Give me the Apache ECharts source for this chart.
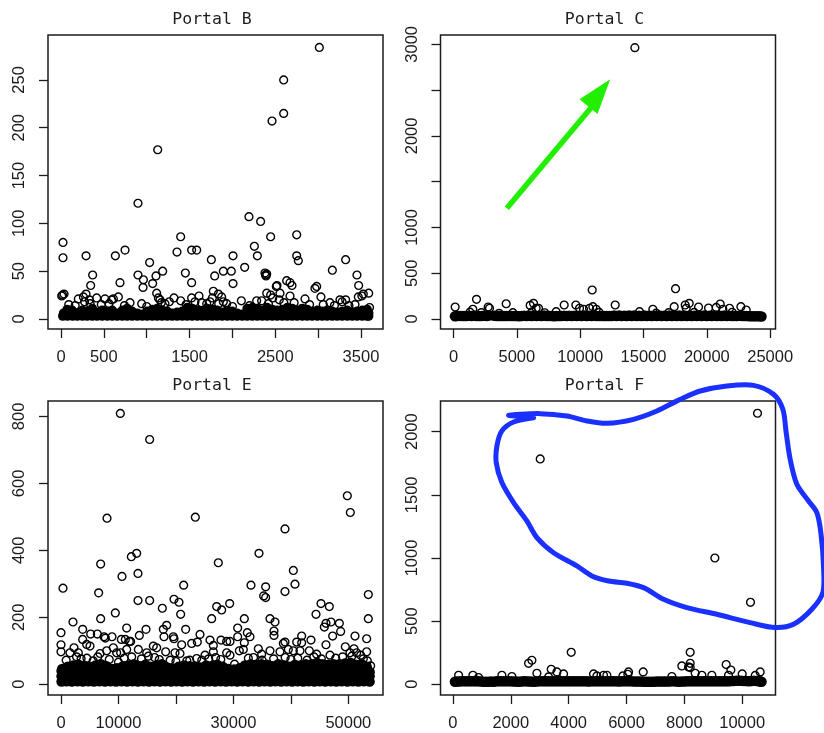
<!DOCTYPE html>
<html><head><meta charset="utf-8">
<style>html,body{margin:0;padding:0;background:#fff}#c{width:824px;height:733px}#c canvas{filter:blur(.45px)}</style>
<script src="https://cdn.jsdelivr.net/npm/echarts@6/dist/echarts.min.js"></script>
</head><body><div id="c"></div>
<script>
// ---- Portal B ----
const bPoints=[[3014,284],[2598,250],[2598,215],[2462,207],[1128,177],[898,121],[2193,107],[2329,102],[23,80],[23,64],[292,66],[369,46],[346,35],[634,66],[747,72],[688,38],[898,46],[961,41],[957,33],[1034,59],[1069,37],[1108,45],[1186,50],[1353,70],[1396,86],[1451,48],[1524,72],[1583,72],[1524,38],[1754,62],[1793,45],[1894,50],[1987,50],[2007,66],[2007,37],[2143,54],[2256,76],[2291,66],[2446,86],[2388,46],[2400,47],[2380,48],[2392,45],[2520,35],[2512,34],[2633,40],[2672,38],[2695,35],[2750,88],[2750,66],[2769,61],[2963,32],[2983,34],[3166,51],[3321,62],[3453,46],[3473,35],[3590,27],[3527,26],[3469,23],[3510,24],[3033,23],[3255,20],[3280,18],[3321,20],[8,24],[35,26],[18,25],[202,21],[261,23],[292,26],[331,20],[416,22],[513,21],[591,20],[611,21],[669,23],[805,17],[941,16],[1116,27],[1136,22],[1155,20],[1213,16],[1264,18],[1318,22],[1396,19],[1524,22],[1610,24],[1563,18],[1738,18],[1777,29],[1766,22],[1836,26],[1874,23],[1894,18],[1933,16],[2104,19],[2283,19],[2341,19],[2400,27],[2446,25],[2470,22],[2555,27],[2547,20],[2672,24],[2847,21],[3138,17],
[90,15],[165,14],[275,18],[340,16],[470,15],[560,16],[740,14],[1000,13],[1170,17],[1460,15],[1640,17],[1700,16],[1840,16],[2000,13],[2200,14],[2420,16],[2600,17],[2720,17],[2900,15],[3060,15],[3190,14],[3360,14],[3430,15],[3600,12]];
const bBand=[[20,3],[75,3],[135,3],[190,3],[250,3],[305,3],[365,3],[420,3],[480,3],[540,3],[598,3],[655,3],[715,3],[772,3],[830,3],[890,3],[948,3],[1005,3],[1065,3],[1122,3],[1180,3],[1240,3],[1298,3],[1355,3],[1415,3],[1472,3],[1530,3],[1590,3],[1648,3],[1705,3],[1765,3],[1822,3],[1880,3],[1940,3],[1998,3],[2055,3],[2115,3],[2172,3],[2232,3],[2290,3],[2348,3],[2405,3],[2465,3],[2522,3],[2582,3],[2640,3],[2698,3],[2755,3],[2815,3],[2872,3],[2930,3],[2990,3],[3048,3],[3105,3],[3165,3],[3222,3],[3280,3],[3340,3],[3398,3],[3455,3],[3515,3],[3572,3],[3590,3],
[30,6],[72,10],[130,9],[190,6],[250,9],[305,8],[365,11],[420,7],[480,9],[540,8],[598,9],[655,6],[715,9],[772,11],[830,8],[890,6],[948,5],[1005,8],[1065,10],[1122,11],[1180,9],[1240,8],[1298,6],[1355,7],[1415,8],[1472,12],[1530,11],[1590,9],[1648,8],[1705,11],[1765,10],[1822,9],[1880,7],[1940,9],[1998,8],[2055,6],[2115,5],[2172,11],[2232,12],[2290,11],[2348,9],[2405,12],[2465,10],[2522,9],[2582,10],[2640,12],[2698,11],[2755,9],[2815,11],[2872,10],[2930,8],[2990,9],[3048,8],[3105,9],[3165,8],[3222,7],[3280,8],[3340,9],[3398,7],[3455,8],[3515,9],[3572,10],[3590,6]];
const bTickX=[0,500,1000,1500,2000,2500,3000,3500];
const bLabelX=[0,500,1500,2500,3500];
const bTickY=[0,50,100,150,200,250];
const bLabelY=[0,50,100,150,200,250];

// ---- Portal C ----
const cPoints=[[14318,2964],[10949,317],[17529,331],[1816,215],[4159,167],[132,131],[2737,131],[2842,117],[1527,106],[6317,171],[6054,149],[6527,117],[6712,117],[4685,69],[8738,153],[9660,153],[9949,117],[10265,106],[10739,117],[11002,135],[11265,106],[12765,153],[14687,80],[15739,106],[17423,135],[18293,153],[18608,171],[18371,117],[19345,131],[20135,120],[20740,127],[21056,164],[21266,106],[21793,117],[22688,135],[23109,98],[8106,80],[1300,75],[2200,70],[3600,62],[6200,78],[7200,68],[11500,72],[16000,64],[17000,70],[19000,72],[22000,74]];
const cBand=[[115,30],[440,34],[835,32],[1230,36],[1625,38],[2020,33],[2415,36],[2810,38],[3205,35],[3600,32],[3995,33],[4390,34],[4785,32],[5180,30],[5575,36],[5970,38],[6365,38],[6760,36],[7155,38],[7550,34],[7945,31],[8340,33],[8735,35],[9130,36],[9525,35],[9920,37],[10315,38],[10710,36],[11105,38],[11500,34],[11895,32],[12290,33],[12685,38],[13080,38],[13475,37],[13870,38],[14265,38],[14660,37],[15055,38],[15450,37],[15845,36],[16240,38],[16635,37],[17030,38],[17425,37],[17820,38],[18215,38],[18610,37],[19005,36],[19400,37],[19795,38],[20190,37],[20585,38],[20980,37],[21375,38],[21770,36],[22165,34],[22560,36],[22955,33],[23350,30],[23745,31],[24140,30],[24315,28],
[240,32],[640,32],[1030,33],[1430,33],[1820,33],[2220,33],[2610,33],[3400,33],[3800,32],[4190,33],[4590,32],[4980,32],[5380,32],[5770,33],[6170,33],[6560,33],[6960,33],[7350,33],[7750,32],[8140,32],[8540,33],[8930,33],[9330,33],[9720,33],[10120,33],[10510,33],[10910,33],[11300,33],[11700,32],[12090,32],[12490,33],[12880,33],[13280,33],[13670,33],[14070,33],[14460,33],[14860,33],[15250,33],[15650,33],[16040,33],[16440,33],[16830,33],[17230,33],[17620,33],[18020,33],[18410,33],[18810,33],[19200,33],[19600,33],[19990,33],[20390,33],[20780,33],[21180,33],[21570,33],[21970,33],[22360,33],[22760,32],[23150,32],[23550,31],[23940,31]];
const cTickX=[0,5000,10000,15000,20000,25000];
const cLabelX=[0,5000,10000,15000,20000,25000];
const cTickY=[0,500,1000,1500,2000,2500,3000];
const cLabelY=[0,500,1000,2000,3000];
const arrowShaft=[[4211,1209],[10923,2319]];
const arrowHead=[[12370,2618],[9949,2399],[11370,2239]];

// ---- Portal E ----
const ePoints=[[10324,809],[15428,731],[8004,496],[23374,499],[6902,359],[6554,273],[348,287],[10614,322],[12238,381],[13166,391],[13398,331],[13398,250],[15428,250],[9454,213],[6902,196],[2088,186],[21344,296],[19662,254],[20532,245],[20822,209],[17632,227],[27376,363],[27086,232],[27956,222],[29348,241],[26216,196],[34452,391],[33060,296],[35612,291],[35264,264],[35612,259],[38976,464],[38976,277],[40426,340],[40716,299],[49822,563],[50344,513],[53476,268],[53476,196],[45240,241],[46690,232],[44370,209],[31900,196],[36366,196],[37236,186],[0,154],[0,118],[0,97],[3770,164],[5162,150],[6322,150],[7482,142],[7714,138],[8874,142],[11426,168],[10498,134],[11194,134],[11890,128],[12122,128],[14790,164],[13630,146],[18386,176],[17806,164],[17922,142],[19546,142],[19662,136],[21692,164],[24186,149],[20996,118],[22736,122],[23722,126],[25926,132],[26506,116],[27840,132],[28826,128],[29406,128],[30740,168],[30740,142],[32422,154],[32886,142],[31900,124],[37062,159],[37062,146],[38976,126],[38686,122],[41876,144],[41006,126],[41876,124],[43500,132],[46110,118],[45820,171],[46110,182],[46980,186],[47270,144],[48430,182],[48662,158],[49474,112],[51156,144],[50982,106],[53186,136],[53186,97],[53882,55],[1566,94],[2262,109],[3016,94],[3770,134],[4466,119],[5046,114],[6786,92],[7946,100],[9106,109],[9686,94],[10382,94],[11426,104],[13456,104],[14906,94],[16066,114],[16646,109],[18212,97],[19836,94],[20706,92],[23606,77],[25056,87],[26506,97],[28826,94],[29406,87],[31030,100],[31726,104],[34336,106],[34916,90],[36366,100],[38106,97],[39556,104],[40426,100],[41586,100],[43210,100],[44486,90],[46806,87],[50286,94],[51446,94],[52142,87],
[900,72],[2700,82],[3500,76],[4500,78],[5600,70],[6400,82],[8400,74],[10000,66],[11000,78],[12300,82],[14000,76],[15200,84],[16300,80],[17100,74],[19000,72],[20000,68],[21900,70],[22400,72],[24500,72],[25700,76],[26900,80],[27800,74],[30200,60],[32600,78],[33500,80],[35000,72],[37000,76],[39000,80],[40000,74],[41200,78],[42800,72],[44000,82],[45300,76],[47800,78],[49000,82],[50600,84],[52600,76],[53300,70]];
const eBand=[[100,8],[950,9],[1900,8],[2860,9],[3810,8],[4780,9],[5730,8],[6690,9],[7650,8],[8600,9],[9570,8],[10520,9],[11480,8],[12440,9],[13400,8],[14350,9],[15320,8],[16270,9],[17230,8],[18190,9],[19150,8],[20100,9],[21070,8],[22020,9],[22980,8],[23940,9],[24900,8],[25850,9],[26820,8],[27770,9],[28730,8],[29690,9],[30650,8],[31600,9],[32570,8],[33520,9],[34480,8],[35440,9],[36400,8],[37350,9],[38320,8],[39270,9],[40230,8],[41190,9],[42150,8],[43100,9],[44070,8],[45020,9],[45980,8],[46940,9],[47900,8],[48850,9],[49820,8],[50770,9],[51730,8],[52690,9],[53700,8],
[100,24],[1100,23],[2050,25],[3000,24],[3960,24],[4920,23],[5880,25],[6840,24],[7800,24],[8760,23],[9720,25],[10680,24],[11640,24],[12600,23],[13560,25],[14520,24],[15480,24],[16440,23],[17400,25],[18360,24],[19320,24],[20280,23],[21240,25],[22200,24],[23160,24],[24120,23],[25080,25],[26040,24],[27000,24],[27960,23],[28920,25],[29880,24],[30840,24],[31800,23],[32760,25],[33720,24],[34680,24],[35640,23],[36600,25],[37560,24],[38520,24],[39480,23],[40440,25],[41400,24],[42360,24],[43320,23],[44280,25],[45240,24],[46200,24],[47160,23],[48120,25],[49080,24],[50040,24],[51000,23],[51960,25],[52920,24],[53700,24],
[100,40],[1000,40],[1960,38],[2920,39],[3880,38],[4840,40],[5800,38],[6760,39],[7720,38],[8680,37],[9640,38],[10600,39],[11560,38],[12520,40],[13480,38],[14440,39],[15400,38],[16360,40],[17320,38],[18280,39],[19240,38],[20200,37],[21160,38],[22120,39],[23080,38],[24040,40],[25000,38],[25960,39],[26920,38],[27880,40],[28840,38],[29800,37],[30760,38],[31720,40],[32680,38],[33640,39],[34600,38],[35560,40],[36520,38],[37480,39],[38440,38],[39400,40],[40360,38],[41320,39],[42280,38],[43240,40],[44200,38],[45160,39],[46120,38],[47080,40],[48040,38],[49000,39],[49960,38],[50920,40],[51880,38],[52840,39],[53700,37],
[200,46],[1150,52],[2100,56],[3100,58],[4050,54],[5000,52],[6000,56],[6950,60],[7900,54],[8900,46],[9800,48],[10800,54],[11750,56],[12700,60],[13700,54],[14650,58],[15600,52],[16600,56],[17550,60],[18500,50],[19500,46],[20450,52],[21400,56],[22350,54],[23350,52],[24300,50],[25250,56],[26250,54],[27200,58],[28150,52],[29150,46],[30100,44],[31050,48],[32000,56],[33000,60],[33950,58],[34900,60],[35850,58],[36850,54],[37800,60],[38750,56],[39750,52],[40700,58],[41650,56],[42600,60],[43600,60],[44550,64],[45500,60],[46500,58],[47450,60],[48400,60],[49400,62],[50350,64],[51300,58],[52300,60],[53200,52]];
const eTickX=[0,10000,20000,30000,40000,50000];
const eLabelX=[0,10000,30000,50000];
const eTickY=[0,200,400,600,800];
const eLabelY=[0,200,400,600,800];

// ---- Portal F ----
const fPoints=[[10529,2146],[3018,1784],[9055,1000],[10287,649],[4090,253],[8202,253],[2730,190],[2615,166],[8202,166],[7914,145],[8145,137],[8202,132],[9446,156],[9608,113],[3398,119],[196,71],[691,71],[887,53],[1693,71],[2039,61],[2903,87],[3306,58],[3594,98],[3825,82],[4861,82],[4977,66],[5207,71],[5322,71],[5875,66],[6071,98],[6048,79],[6578,98],[7569,61],[8375,87],[8606,71],[8951,71],[9527,71],[9999,82],[10621,98],[10450,70]];
const fBand=[[70,20],[200,22],[370,24],[545,24],[720,24],[890,24],[1060,20],[1235,20],[1410,20],[1580,24],[1755,24],[1925,24],[2100,22],[2270,20],[2445,24],[2620,22],[2790,20],[2965,24],[3140,24],[3310,24],[3485,24],[3660,24],[3830,24],[4005,24],[4175,24],[4350,24],[4525,24],[4695,22],[4870,24],[5040,24],[5215,24],[5390,24],[5560,24],[5735,22],[5905,24],[6080,24],[6255,22],[6425,22],[6600,20],[6770,20],[6945,20],[7120,22],[7290,22],[7465,22],[7635,24],[7810,20],[7985,22],[8155,24],[8330,24],[8500,24],[8675,24],[8850,24],[9020,24],[9195,24],[9365,24],[9540,24],[9715,26],[9885,28],[10060,26],[10235,24],[10405,28],[10580,24],[10667,20],
[115,22],[285,23],[460,24],[630,24],[805,24],[975,22],[1150,20],[1320,22],[1495,23],[1670,24],[1840,24],[2015,23],[2185,21],[2360,22],[2530,23],[2705,21],[2880,22],[3050,24],[3225,24],[3400,24],[3570,24],[3745,24],[3915,24],[4090,24],[4265,24],[4435,24],[4610,23],[4780,23],[4955,24],[5130,24],[5300,24],[5475,24],[5650,23],[5820,23],[5995,24],[6165,23],[6340,22],[6515,21],[6685,20],[6860,20],[7030,21],[7205,22],[7375,22],[7550,23],[7725,22],[7895,21],[8070,23],[8240,24],[8415,24],[8590,24],[8760,24],[8935,24],[9105,24],[9280,24],[9455,24],[9625,25],[9800,27],[9970,27],[10145,25],[10320,26],[10490,26],[10630,22]];
const fTickX=[0,2000,4000,6000,8000,10000];
const fLabelX=[0,2000,4000,6000,8000,10000];
const fTickY=[0,500,1000,1500,2000];
const fLabelY=[0,500,1000,1500,2000];
const blueLoop=[[2788,2111],[2097,2077],[1693,2006],[1521,1887],[1498,1755],[1693,1597],[2097,1438],[2557,1293],[2903,1161],[3479,1042],[4285,937],[4804,858],[5380,818],[6013,800],[6589,765],[7281,673],[8087,607],[9124,554],[10276,488],[11140,449],[11773,475],[12407,594],[12787,726],[12810,937],[12718,1201],[12580,1359],[12292,1451],[11889,1583],[11658,1781],[11520,1992],[11405,2177],[11082,2296],[10391,2367],[9469,2362],[8548,2322],[7857,2256],[7050,2164],[6244,2098],[5322,2066],[4631,2085],[3940,2124],[3018,2143],[1924,2130],[2788,2111]];

const INK='#1c1c1c';
const panels=[
 {title:'Portal B',left:48,top:35,right:441,bottom:404,xr:[-152,3757],yr:[-10.5,297],pts:bPoints,band:bBand,bandSize:9.5,tx:bTickX,lx:bLabelX,ty:bTickY,ly:bLabelY},
 {title:'Portal C',left:440.5,top:35,right:48.5,bottom:404,xr:[-1026,25421],yr:[-109,3102],pts:cPoints,band:cBand,bandSize:10.5,tx:cTickX,lx:cLabelX,ty:cTickY,ly:cLabelY},
 {title:'Portal E',left:48,top:401,right:441,bottom:38,xr:[-2262,56030],yr:[-32,846],pts:ePoints,band:eBand,bandSize:10.5,tx:eTickX,lx:eLabelX,ty:eTickY,ly:eLabelY},
 {title:'Portal F',left:440.5,top:401,right:48.5,bottom:38,xr:[-429,11151],yr:[-85,2243],pts:fPoints,band:fBand,bandSize:10.5,tx:fTickX,lx:fLabelX,ty:fTickY,ly:fLabelY}
];
const tickFont={fontFamily:'Liberation Sans',fontSize:16.5,color:INK,formatter:v=>String(v)};
const option={animation:false,backgroundColor:'#fff',
 title:panels.map(p=>({text:p.title,left:p.left+159,top:p.top-29,textAlign:'center',
   textStyle:{fontFamily:'DejaVu Sans Mono',fontSize:16.5,fontWeight:'normal',color:INK}})),
 grid:panels.map(p=>({left:p.left,top:p.top,right:p.right,bottom:p.bottom,show:true,borderColor:INK,borderWidth:1.5,backgroundColor:'transparent'})),
 xAxis:panels.map((p,i)=>({type:'value',gridIndex:i,min:p.xr[0],max:p.xr[1],splitLine:{show:false},
   axisLine:{show:false,onZero:false},axisTick:{show:true,length:9,lineStyle:{color:INK,width:1.3},customValues:p.tx},
   axisLabel:Object.assign({show:true,margin:20,customValues:p.lx,hideOverlap:false},tickFont)})),
 yAxis:panels.map((p,i)=>({type:'value',gridIndex:i,min:p.yr[0],max:p.yr[1],splitLine:{show:false},
   axisLine:{show:false,onZero:false},axisTick:{show:true,length:9,lineStyle:{color:INK,width:1.3},customValues:p.ty},
   axisLabel:Object.assign({show:true,margin:20,rotate:90,customValues:p.ly,hideOverlap:false},tickFont)})),
 series:[]
};
panels.forEach((p,i)=>{
 option.series.push({type:'scatter',name:p.title+' dense',xAxisIndex:i,yAxisIndex:i,data:p.band,symbol:'circle',symbolSize:p.bandSize,silent:true,itemStyle:{color:'#000',opacity:1}});
 option.series.push({type:'scatter',name:p.title,xAxisIndex:i,yAxisIndex:i,data:p.pts,symbol:'circle',symbolSize:7.8,silent:true,itemStyle:{color:'rgba(0,0,0,0)',borderColor:'#000',borderWidth:1.4,opacity:1}});
});
option.series.push({type:'line',name:'arrow shaft',xAxisIndex:1,yAxisIndex:1,data:arrowShaft,showSymbol:false,silent:true,z:5,lineStyle:{color:'#22ee00',width:5.5,cap:'butt'}});
option.series.push({type:'custom',name:'arrow head',xAxisIndex:1,yAxisIndex:1,data:[arrowHead[0]],silent:true,z:5,
 renderItem:(params,api)=>({type:'polygon',shape:{points:arrowHead.map(q=>api.coord(q))},style:{fill:'#22ee00'}})});
option.series.push({type:'custom',name:'hand-drawn loop',xAxisIndex:3,yAxisIndex:3,data:[blueLoop[0]],silent:true,z:6,
 renderItem:(params,api)=>({type:'polyline',shape:{points:blueLoop.map(q=>api.coord(q)),smooth:0.3},style:{stroke:'#1a30ff',lineWidth:5,fill:null,lineCap:'round',lineJoin:'round'}})});
echarts.init(document.getElementById('c'),null,{renderer:'canvas'}).setOption(option);
</script></body></html>
